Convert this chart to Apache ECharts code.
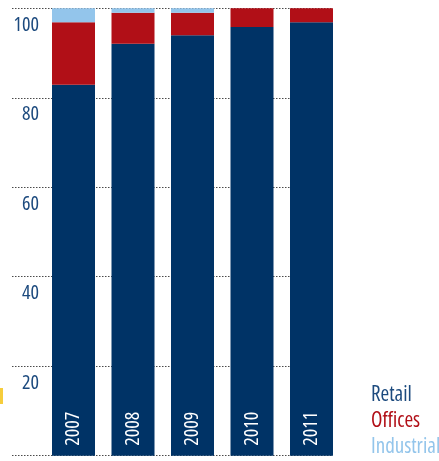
<!DOCTYPE html>
<html>
<head>
<meta charset="utf-8">
<script src="https://cdn.jsdelivr.net/npm/echarts@6/dist/echarts.min.js"></script>
<style>
  html, body { margin: 0; padding: 0; background: #fff; }
  #chart { width: 439px; height: 461px; }
</style>
</head>
<body>
<div id="chart"></div>
<script>
// Share of portfolio by sector (%)
const years = ['2007', '2008', '2009', '2010', '2011'];
const retail = [82.9, 92.1, 94.0, 95.8, 96.9];
const offices = [14.0, 6.9, 5.0, 4.2, 3.1];
const industrial = [3.1, 1.0, 1.0, 0, 0];
const yTicks = [20, 40, 60, 80, 100];

const NAVY = '#003366';
const RED = '#b10f17';
const LIGHT = '#93c5eb';
const LABEL_BLUE = '#1c4a7e';
// condensed cut of Open Sans (width axis) via the font-stretch keyword
const FONT = '"Open Sans", sans-serif';
const STRETCH = 'semi-condensed';

const chart = echarts.init(document.getElementById('chart'), null, { renderer: 'canvas' });

const gridTop = 8.3;
const gridHeight = 447.4;

chart.setOption({
  animation: false,
  backgroundColor: '#ffffff',
  textStyle: { fontFamily: FONT },
  grid: [
    // wide grid carrying the dotted guide lines and the value labels
    { left: 12, width: 321, top: gridTop, height: gridHeight },
    // grid holding the bars
    { left: 43.75, width: 297.5, top: gridTop, height: gridHeight }
  ],
  xAxis: [
    { gridIndex: 0, type: 'value', show: false, min: 0, max: 1 },
    {
      gridIndex: 1,
      type: 'category',
      data: years,
      z: 10,
      axisLine: { show: false },
      axisTick: { show: false },
      axisLabel: {
        inside: true,
        rotate: 90,
        margin: 10,
        color: '#ffffff',
        fontSize: 20,
        fontWeight: STRETCH,
        fontFamily: FONT
      }
    }
  ],
  yAxis: [
    {
      gridIndex: 0,
      type: 'value',
      min: 0,
      max: 100,
      interval: 20,
      axisLine: { show: false },
      axisTick: { show: false },
      splitLine: {
        show: true,
        lineStyle: { color: '#4a4a4a', width: 1, type: [1.5, 1.5] }
      },
      axisLabel: {
        margin: -27,
        align: 'right',
        verticalAlign: 'top',
        padding: [7, 0, 0, 0],
        color: LABEL_BLUE,
        fontSize: 20,
        fontWeight: STRETCH,
        fontFamily: FONT,
        formatter: v => (yTicks.indexOf(v) >= 0 ? String(v) : '')
      }
    },
    {
      gridIndex: 1,
      type: 'value',
      min: 0,
      max: 100,
      show: false
    }
  ],
  legend: {
    orient: 'vertical',
    left: 366,
    top: 385,
    padding: 0,
    itemGap: 5,
    itemWidth: 0,
    itemHeight: 21,
    icon: 'none',
    selectedMode: false,
    textStyle: { fontSize: 21, fontWeight: STRETCH, fontFamily: FONT },
    data: [
      { name: 'Retail', textStyle: { color: LABEL_BLUE } },
      { name: 'Offices', textStyle: { color: RED } },
      { name: 'Industrial', textStyle: { color: LIGHT } }
    ]
  },
  graphic: [
    // small yellow accent on the left edge
    { type: 'rect', left: 0, top: 388, shape: { width: 3, height: 16 }, style: { fill: '#f6cd3c' } }
  ],
  series: [
    { name: 'Retail', type: 'bar', stack: 'share', xAxisIndex: 1, yAxisIndex: 1, barWidth: 43, data: retail, itemStyle: { color: NAVY } },
    { name: 'Offices', type: 'bar', stack: 'share', xAxisIndex: 1, yAxisIndex: 1, barWidth: 43, data: offices, itemStyle: { color: RED } },
    { name: 'Industrial', type: 'bar', stack: 'share', xAxisIndex: 1, yAxisIndex: 1, barWidth: 43, data: industrial, itemStyle: { color: LIGHT } }
  ]
});
</script>
</body>
</html>
